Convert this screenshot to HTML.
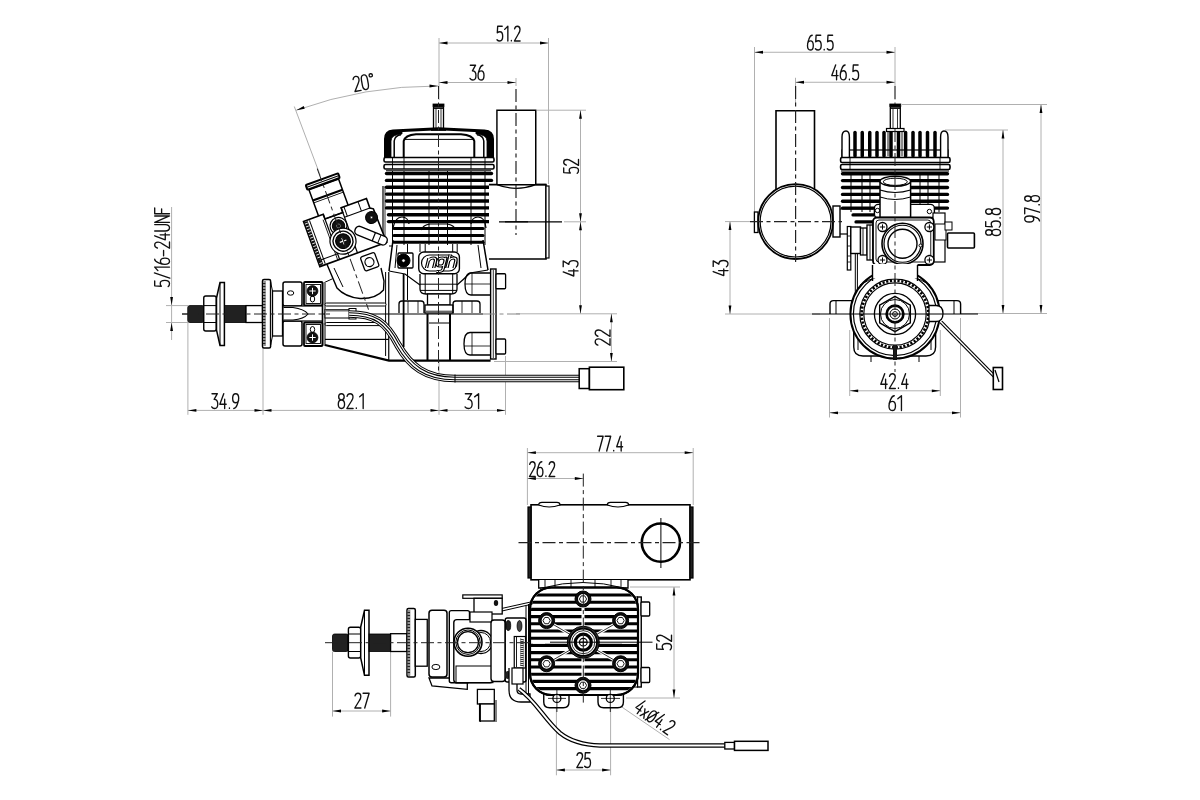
<!DOCTYPE html>
<html><head><meta charset="utf-8"><style>
html,body{margin:0;padding:0;background:#fff;width:1200px;height:800px;overflow:hidden}
svg{display:block}
text{font-family:"Liberation Sans",sans-serif;fill:#000;stroke:#fff;stroke-width:0.5px}
</style></head><body>
<svg width="1200" height="800" viewBox="0 0 1200 800" stroke-linecap="butt">
<rect width="1200" height="800" fill="#fff"/>
<line x1="439" y1="38" x2="439" y2="100" stroke="#b0b0b0" stroke-width="1.0" />
<line x1="548.5" y1="38" x2="548.5" y2="184" stroke="#b0b0b0" stroke-width="1.0" />
<line x1="439" y1="43" x2="548.5" y2="43" stroke="#b0b0b0" stroke-width="1.0" />
<polygon points="439,43 447.50,41.60 447.50,44.40" fill="#000"/>
<polygon points="548.5,43 540.00,44.40 540.00,41.60" fill="#000"/>
<path transform="translate(497,41)" d="M5.21,-14.80 L0.68,-14.80 L0.29,-8.19 Q1.45,-9.27 2.89,-9.27 Q5.69,-9.27 5.69,-4.64 Q5.69,0.00 2.80,0.00 Q0.96,0.00 0.00,-1.28 M7.67,-11.64 L10.85,-14.80 L10.85,0.00 M14.37,-0.69 L14.37,-0.10 M17.60,-12.14 Q18.27,-14.80 20.30,-14.80 Q23.00,-14.80 23.00,-11.45 Q23.00,-9.47 21.65,-7.50 L17.41,0.00 L23.10,0.00" fill="none" stroke="#111" stroke-width="1.35" stroke-linecap="round" stroke-linejoin="round"/>
<line x1="516" y1="78" x2="516" y2="86" stroke="#b0b0b0" stroke-width="1.0" />
<line x1="439" y1="82.5" x2="516" y2="82.5" stroke="#b0b0b0" stroke-width="1.0" />
<polygon points="439,82.5 447.50,81.10 447.50,83.90" fill="#000"/>
<polygon points="516,82.5 507.50,83.90 507.50,81.10" fill="#000"/>
<path transform="translate(470,80)" d="M0.30,-14.80 L5.56,-14.80 L2.43,-9.18 Q5.96,-9.18 5.96,-4.54 Q5.96,0.00 2.93,0.00 Q1.01,0.00 0.00,-1.58 M12.89,-14.80 Q10.87,-14.80 9.45,-10.85 Q8.04,-7.40 8.04,-4.54 Q8.04,0.00 11.02,0.00 Q14.00,0.00 14.00,-4.54 Q14.00,-9.08 11.02,-9.08 Q8.95,-9.08 8.14,-6.71" fill="none" stroke="#111" stroke-width="1.35" stroke-linecap="round" stroke-linejoin="round"/>
<path d="M296.25,110.25 A415,415 0 0 1 438,86" fill="none" stroke="#b0b0b0" stroke-width="1.0" />
<polygon points="296.25,110.25 303.76,106.04 304.72,108.67" fill="#000"/>
<polygon points="438,86 429.50,87.40 429.50,84.60" fill="#000"/>
<line x1="294.3" y1="106.5" x2="320.25" y2="175.5" stroke="#b0b0b0" stroke-width="1.0" />
<path transform="translate(355,91.5) rotate(-10)" d="M0.21,-12.14 Q0.94,-14.80 3.14,-14.80 Q6.07,-14.80 6.07,-11.45 Q6.07,-9.47 4.61,-7.50 L0.00,0.00 L6.18,0.00 M11.36,-14.80 Q8.32,-14.80 8.32,-9.87 L8.32,-4.93 Q8.32,0.00 11.36,0.00 Q14.40,0.00 14.40,-4.93 L14.40,-9.87 Q14.40,-14.80 11.36,-14.80 Z M18.32,-14.80 Q20.00,-14.80 20.00,-13.22 Q20.00,-11.64 18.32,-11.64 Q16.65,-11.64 16.65,-13.22 Q16.65,-14.80 18.32,-14.80 Z" fill="none" stroke="#111" stroke-width="1.35" stroke-linecap="round" stroke-linejoin="round"/>
<line x1="537" y1="110.2" x2="586" y2="110.2" stroke="#b0b0b0" stroke-width="1.0" />
<line x1="580.5" y1="110.2" x2="580.5" y2="221.8" stroke="#b0b0b0" stroke-width="1.0" />
<polygon points="580.5,110.2 581.90,118.70 579.10,118.70" fill="#000"/>
<polygon points="580.5,221.8 579.10,213.30 581.90,213.30" fill="#000"/>
<path transform="translate(578.5,173.3) rotate(-90)" d="M5.42,-14.80 L0.70,-14.80 L0.30,-8.19 Q1.51,-9.27 3.01,-9.27 Q5.92,-9.27 5.92,-4.64 Q5.92,0.00 2.91,0.00 Q1.00,0.00 0.00,-1.28 M8.18,-12.14 Q8.88,-14.80 10.99,-14.80 Q13.80,-14.80 13.80,-11.45 Q13.80,-9.47 12.39,-7.50 L7.98,0.00 L13.90,0.00" fill="none" stroke="#111" stroke-width="1.35" stroke-linecap="round" stroke-linejoin="round"/>
<line x1="564" y1="221.8" x2="586" y2="221.8" stroke="#b0b0b0" stroke-width="1.0" />
<line x1="580.5" y1="221.8" x2="580.5" y2="313.8" stroke="#b0b0b0" stroke-width="1.0" />
<polygon points="580.5,221.8 581.90,230.30 579.10,230.30" fill="#000"/>
<polygon points="580.5,313.8 579.10,305.30 581.90,305.30" fill="#000"/>
<path transform="translate(578,276) rotate(-90)" d="M4.11,-14.80 L0.00,-4.24 L6.70,-4.24 M5.08,-9.37 L5.08,0.00 M9.35,-14.80 L14.98,-14.80 L11.62,-9.18 Q15.41,-9.18 15.41,-4.54 Q15.41,0.00 12.16,0.00 Q10.11,0.00 9.03,-1.58" fill="none" stroke="#111" stroke-width="1.35" stroke-linecap="round" stroke-linejoin="round"/>
<line x1="516" y1="313.8" x2="617" y2="313.8" stroke="#b0b0b0" stroke-width="1.0" />
<line x1="611.4" y1="313.8" x2="611.4" y2="361.5" stroke="#b0b0b0" stroke-width="1.0" />
<polygon points="611.4,313.8 612.80,322.30 610.00,322.30" fill="#000"/>
<polygon points="611.4,361.5 610.00,353.00 612.80,353.00" fill="#000"/>
<path transform="translate(610,345.3) rotate(-90)" d="M0.22,-12.14 Q1.00,-14.80 3.34,-14.80 Q6.45,-14.80 6.45,-11.45 Q6.45,-9.47 4.90,-7.50 L0.00,0.00 L6.57,0.00 M9.07,-12.14 Q9.85,-14.80 12.18,-14.80 Q15.30,-14.80 15.30,-11.45 Q15.30,-9.47 13.74,-7.50 L8.85,0.00 L15.41,0.00" fill="none" stroke="#111" stroke-width="1.35" stroke-linecap="round" stroke-linejoin="round"/>
<line x1="494" y1="361.5" x2="617" y2="361.5" stroke="#b0b0b0" stroke-width="1.0" />
<line x1="171.6" y1="207" x2="171.6" y2="340" stroke="#b0b0b0" stroke-width="1.0" />
<polygon points="171.6,305.6 170.20,297.10 173.00,297.10" fill="#000"/>
<polygon points="171.6,322.5 173.00,331.00 170.20,331.00" fill="#000"/>
<line x1="166" y1="305.6" x2="188" y2="305.6" stroke="#b0b0b0" stroke-width="1.0" />
<line x1="166" y1="322.5" x2="188" y2="322.5" stroke="#b0b0b0" stroke-width="1.0" />
<path transform="translate(169.5,286.6) rotate(-90)" d="M5.72,-14.80 L0.74,-14.80 L0.32,-8.19 Q1.59,-9.27 3.18,-9.27 Q6.25,-9.27 6.25,-4.64 Q6.25,0.00 3.07,0.00 Q1.06,0.00 0.00,-1.28 M8.42,0.30 L13.71,-15.10 M15.98,-11.64 L19.48,-14.80 L19.48,0.00 M27.36,-14.80 Q25.25,-14.80 23.77,-10.85 Q22.28,-7.40 22.28,-4.54 Q22.28,0.00 25.41,0.00 Q28.53,0.00 28.53,-4.54 Q28.53,-9.08 25.41,-9.08 Q23.24,-9.08 22.39,-6.71 M30.80,-5.92 L36.10,-5.92 M38.59,-12.14 Q39.33,-14.80 41.55,-14.80 Q44.51,-14.80 44.51,-11.45 Q44.51,-9.47 43.03,-7.50 L38.37,0.00 L44.62,0.00 M50.81,-14.80 L46.79,-4.24 L53.35,-4.24 M51.76,-9.37 L51.76,0.00 M55.63,-14.80 L55.63,-4.24 Q55.63,0.00 58.80,0.00 Q61.98,0.00 61.98,-4.24 L61.98,-14.80 M64.26,0.00 L64.26,-14.80 L70.61,0.00 L70.61,-14.80 M78.60,-14.80 L72.88,-14.80 L72.88,0.00 M72.88,-7.89 L77.75,-7.89" fill="none" stroke="#111" stroke-width="1.35" stroke-linecap="round" stroke-linejoin="round"/>
<line x1="187.9" y1="322.5" x2="187.9" y2="414.8" stroke="#b0b0b0" stroke-width="1.0" />
<line x1="263" y1="348" x2="263" y2="414.8" stroke="#b0b0b0" stroke-width="1.0" />
<line x1="439" y1="361" x2="439" y2="414.8" stroke="#b0b0b0" stroke-width="1.0" />
<line x1="505.5" y1="356" x2="505.5" y2="414.8" stroke="#b0b0b0" stroke-width="1.0" />
<line x1="187.9" y1="410.4" x2="505.5" y2="410.4" stroke="#b0b0b0" stroke-width="1.0" />
<polygon points="187.9,410.4 196.40,409.00 196.40,411.80" fill="#000"/>
<polygon points="263,410.4 254.50,411.80 254.50,409.00" fill="#000"/>
<polygon points="263,410.4 271.50,409.00 271.50,411.80" fill="#000"/>
<polygon points="439,410.4 430.50,411.80 430.50,409.00" fill="#000"/>
<polygon points="439,410.4 447.50,409.00 447.50,411.80" fill="#000"/>
<polygon points="505.5,410.4 497.00,411.80 497.00,409.00" fill="#000"/>
<path transform="translate(211.7,408.5)" d="M0.31,-14.80 L5.64,-14.80 L2.46,-9.18 Q6.05,-9.18 6.05,-4.54 Q6.05,0.00 2.97,0.00 Q1.02,0.00 0.00,-1.58 M12.04,-14.80 L8.15,-4.24 L14.50,-4.24 M12.96,-9.37 L12.96,0.00 M17.73,-0.69 L17.73,-0.10 M22.08,0.00 Q24.13,0.00 25.57,-3.95 Q27.00,-7.40 27.00,-10.26 Q27.00,-14.80 23.98,-14.80 Q20.95,-14.80 20.95,-10.26 Q20.95,-5.72 23.98,-5.72 Q26.08,-5.72 26.90,-8.09" fill="none" stroke="#111" stroke-width="1.35" stroke-linecap="round" stroke-linejoin="round"/>
<path transform="translate(338.3,408.5)" d="M3.13,-8.49 Q0.37,-8.49 0.37,-11.64 Q0.37,-14.80 3.13,-14.80 Q5.89,-14.80 5.89,-11.64 Q5.89,-8.49 3.13,-8.49 Q0.00,-8.49 0.00,-4.24 Q0.00,0.00 3.13,0.00 Q6.26,0.00 6.26,-4.24 Q6.26,-8.49 3.13,-8.49 Z M8.75,-12.14 Q9.49,-14.80 11.72,-14.80 Q14.69,-14.80 14.69,-11.45 Q14.69,-9.47 13.20,-7.50 L8.54,0.00 L14.79,0.00 M18.03,-0.69 L18.03,-0.10 M21.37,-11.64 L24.87,-14.80 L24.87,0.00" fill="none" stroke="#111" stroke-width="1.35" stroke-linecap="round" stroke-linejoin="round"/>
<path transform="translate(465,408.5)" d="M0.36,-14.80 L6.65,-14.80 L2.90,-9.18 Q7.13,-9.18 7.13,-4.54 Q7.13,0.00 3.50,0.00 Q1.21,0.00 0.00,-1.58 M9.61,-11.64 L13.60,-14.80 L13.60,0.00" fill="none" stroke="#111" stroke-width="1.35" stroke-linecap="round" stroke-linejoin="round"/>
<line x1="754.5" y1="47" x2="754.5" y2="212" stroke="#b0b0b0" stroke-width="1.0" />
<line x1="895" y1="47" x2="895" y2="100" stroke="#b0b0b0" stroke-width="1.0" />
<line x1="754.5" y1="52.25" x2="895" y2="52.25" stroke="#b0b0b0" stroke-width="1.0" />
<polygon points="754.5,52.25 763.00,50.85 763.00,53.65" fill="#000"/>
<polygon points="895,52.25 886.50,53.65 886.50,50.85" fill="#000"/>
<path transform="translate(807.5,50)" d="M4.72,-14.80 Q2.75,-14.80 1.38,-10.85 Q0.00,-7.40 0.00,-4.54 Q0.00,0.00 2.90,0.00 Q5.80,0.00 5.80,-4.54 Q5.80,-9.08 2.90,-9.08 Q0.88,-9.08 0.10,-6.71 M13.22,-14.80 L8.60,-14.80 L8.21,-8.19 Q9.38,-9.27 10.86,-9.27 Q13.71,-9.27 13.71,-4.64 Q13.71,0.00 10.76,0.00 Q8.89,0.00 7.91,-1.28 M16.71,-0.69 L16.71,-0.10 M25.11,-14.80 L20.49,-14.80 L20.10,-8.19 Q21.27,-9.27 22.75,-9.27 Q25.60,-9.27 25.60,-4.64 Q25.60,0.00 22.65,0.00 Q20.78,0.00 19.80,-1.28" fill="none" stroke="#111" stroke-width="1.35" stroke-linecap="round" stroke-linejoin="round"/>
<line x1="795.5" y1="77.75" x2="795.5" y2="105" stroke="#b0b0b0" stroke-width="1.0" />
<line x1="795.5" y1="82.25" x2="895" y2="82.25" stroke="#b0b0b0" stroke-width="1.0" />
<polygon points="795.5,82.25 804.00,80.85 804.00,83.65" fill="#000"/>
<polygon points="895,82.25 886.50,83.65 886.50,80.85" fill="#000"/>
<path transform="translate(831.8,79.8)" d="M3.85,-14.80 L0.00,-4.24 L6.28,-4.24 M4.76,-9.37 L4.76,0.00 M13.32,-14.80 Q11.30,-14.80 9.88,-10.85 Q8.46,-7.40 8.46,-4.54 Q8.46,0.00 11.45,0.00 Q14.44,0.00 14.44,-4.54 Q14.44,-9.08 11.45,-9.08 Q9.37,-9.08 8.56,-6.71 M17.63,-0.69 L17.63,-0.10 M26.29,-14.80 L21.53,-14.80 L21.13,-8.19 Q22.34,-9.27 23.86,-9.27 Q26.80,-9.27 26.80,-4.64 Q26.80,0.00 23.76,0.00 Q21.84,0.00 20.82,-1.28" fill="none" stroke="#111" stroke-width="1.35" stroke-linecap="round" stroke-linejoin="round"/>
<line x1="902" y1="104.5" x2="1047" y2="104.5" stroke="#b0b0b0" stroke-width="1.0" />
<line x1="945" y1="130" x2="1008" y2="130" stroke="#b0b0b0" stroke-width="1.0" />
<line x1="955" y1="313.5" x2="1047" y2="313.5" stroke="#b0b0b0" stroke-width="1.0" />
<line x1="1041" y1="104.5" x2="1041" y2="313.5" stroke="#b0b0b0" stroke-width="1.0" />
<polygon points="1041,104.5 1042.40,113.00 1039.60,113.00" fill="#000"/>
<polygon points="1041,313.5 1039.60,305.00 1042.40,305.00" fill="#000"/>
<line x1="1003" y1="130" x2="1003" y2="313.5" stroke="#b0b0b0" stroke-width="1.0" />
<polygon points="1003,130 1004.40,138.50 1001.60,138.50" fill="#000"/>
<polygon points="1003,313.5 1001.60,305.00 1004.40,305.00" fill="#000"/>
<path transform="translate(1000.5,235.5) rotate(-90)" d="M3.06,-8.49 Q0.36,-8.49 0.36,-11.64 Q0.36,-14.80 3.06,-14.80 Q5.75,-14.80 5.75,-11.64 Q5.75,-8.49 3.06,-8.49 Q0.00,-8.49 0.00,-4.24 Q0.00,0.00 3.06,0.00 Q6.12,0.00 6.12,-4.24 Q6.12,-8.49 3.06,-8.49 Z M13.94,-14.80 L9.07,-14.80 L8.65,-8.19 Q9.90,-9.27 11.45,-9.27 Q14.46,-9.27 14.46,-4.64 Q14.46,0.00 11.35,0.00 Q9.38,0.00 8.34,-1.28 M17.62,-0.69 L17.62,-0.10 M23.94,-8.49 Q21.25,-8.49 21.25,-11.64 Q21.25,-14.80 23.94,-14.80 Q26.64,-14.80 26.64,-11.64 Q26.64,-8.49 23.94,-8.49 Q20.88,-8.49 20.88,-4.24 Q20.88,0.00 23.94,0.00 Q27.00,0.00 27.00,-4.24 Q27.00,-8.49 23.94,-8.49 Z" fill="none" stroke="#111" stroke-width="1.35" stroke-linecap="round" stroke-linejoin="round"/>
<path transform="translate(1039.5,222) rotate(-90)" d="M1.11,0.00 Q3.14,0.00 4.56,-3.95 Q5.98,-7.40 5.98,-10.26 Q5.98,-14.80 2.99,-14.80 Q0.00,-14.80 0.00,-10.26 Q0.00,-5.72 2.99,-5.72 Q5.07,-5.72 5.88,-8.09 M8.16,-14.80 L14.04,-14.80 L9.78,0.00 M17.23,-0.69 L17.23,-0.10 M23.41,-8.49 Q20.78,-8.49 20.78,-11.64 Q20.78,-14.80 23.41,-14.80 Q26.05,-14.80 26.05,-11.64 Q26.05,-8.49 23.41,-8.49 Q20.42,-8.49 20.42,-4.24 Q20.42,0.00 23.41,0.00 Q26.40,0.00 26.40,-4.24 Q26.40,-8.49 23.41,-8.49 Z" fill="none" stroke="#111" stroke-width="1.35" stroke-linecap="round" stroke-linejoin="round"/>
<line x1="725" y1="221.6" x2="755" y2="221.6" stroke="#b0b0b0" stroke-width="1.0" />
<line x1="725" y1="314" x2="820" y2="314" stroke="#b0b0b0" stroke-width="1.0" />
<line x1="730" y1="221.6" x2="730" y2="314" stroke="#b0b0b0" stroke-width="1.0" />
<polygon points="730,221.6 731.40,230.10 728.60,230.10" fill="#000"/>
<polygon points="730,314 728.60,305.50 731.40,305.50" fill="#000"/>
<path transform="translate(728,275.6) rotate(-90)" d="M4.03,-14.80 L0.00,-4.24 L6.57,-4.24 M4.98,-9.37 L4.98,0.00 M9.17,-14.80 L14.68,-14.80 L11.40,-9.18 Q15.11,-9.18 15.11,-4.54 Q15.11,0.00 11.93,0.00 Q9.91,0.00 8.85,-1.58" fill="none" stroke="#111" stroke-width="1.35" stroke-linecap="round" stroke-linejoin="round"/>
<line x1="849.7" y1="330" x2="849.7" y2="396" stroke="#b0b0b0" stroke-width="1.0" />
<line x1="940.3" y1="330" x2="940.3" y2="396" stroke="#b0b0b0" stroke-width="1.0" />
<line x1="849.7" y1="390.8" x2="940.3" y2="390.8" stroke="#b0b0b0" stroke-width="1.0" />
<polygon points="849.7,390.8 858.20,389.40 858.20,392.20" fill="#000"/>
<polygon points="940.3,390.8 931.80,392.20 931.80,389.40" fill="#000"/>
<path transform="translate(880.8,388.5)" d="M3.88,-14.80 L0.00,-4.24 L6.33,-4.24 M4.80,-9.37 L4.80,0.00 M8.73,-12.14 Q9.44,-14.80 11.58,-14.80 Q14.44,-14.80 14.44,-11.45 Q14.44,-9.47 13.01,-7.50 L8.52,0.00 L14.54,0.00 M17.66,-0.69 L17.66,-0.10 M24.75,-14.80 L20.87,-4.24 L27.20,-4.24 M25.67,-9.37 L25.67,0.00" fill="none" stroke="#111" stroke-width="1.35" stroke-linecap="round" stroke-linejoin="round"/>
<line x1="829.5" y1="318" x2="829.5" y2="417.5" stroke="#b0b0b0" stroke-width="1.0" />
<line x1="960.5" y1="318" x2="960.5" y2="417.5" stroke="#b0b0b0" stroke-width="1.0" />
<line x1="829.5" y1="412.8" x2="960.5" y2="412.8" stroke="#b0b0b0" stroke-width="1.0" />
<polygon points="829.5,412.8 838.00,411.40 838.00,414.20" fill="#000"/>
<polygon points="960.5,412.8 952.00,414.20 952.00,411.40" fill="#000"/>
<path transform="translate(889,410.5)" d="M5.27,-14.80 Q3.07,-14.80 1.54,-10.85 Q0.00,-7.40 0.00,-4.54 Q0.00,0.00 3.24,0.00 Q6.47,0.00 6.47,-4.54 Q6.47,-9.08 3.24,-9.08 Q0.99,-9.08 0.11,-6.71 M8.83,-11.64 L12.45,-14.80 L12.45,0.00" fill="none" stroke="#111" stroke-width="1.35" stroke-linecap="round" stroke-linejoin="round"/>
<line x1="527.4" y1="448" x2="527.4" y2="505" stroke="#b0b0b0" stroke-width="1.0" />
<line x1="693.2" y1="448" x2="693.2" y2="505" stroke="#b0b0b0" stroke-width="1.0" />
<line x1="527.4" y1="452.7" x2="693.2" y2="452.7" stroke="#b0b0b0" stroke-width="1.0" />
<polygon points="527.4,452.7 535.90,451.30 535.90,454.10" fill="#000"/>
<polygon points="693.2,452.7 684.70,454.10 684.70,451.30" fill="#000"/>
<path transform="translate(597.6,451)" d="M0.00,-14.80 L5.52,-14.80 L1.52,0.00 M7.57,-14.80 L13.10,-14.80 L9.10,0.00 M16.10,-0.69 L16.10,-0.10 M22.71,-14.80 L19.10,-4.24 L25.00,-4.24 M23.57,-9.37 L23.57,0.00" fill="none" stroke="#111" stroke-width="1.35" stroke-linecap="round" stroke-linejoin="round"/>
<line x1="527.4" y1="478.5" x2="583.3" y2="478.5" stroke="#b0b0b0" stroke-width="1.0" />
<polygon points="527.4,478.5 535.90,477.10 535.90,479.90" fill="#000"/>
<polygon points="583.3,478.5 574.80,479.90 574.80,477.10" fill="#000"/>
<path transform="translate(529.5,476.5)" d="M0.19,-12.14 Q0.87,-14.80 2.90,-14.80 Q5.61,-14.80 5.61,-11.45 Q5.61,-9.47 4.26,-7.50 L0.00,0.00 L5.71,0.00 M12.33,-14.80 Q10.40,-14.80 9.04,-10.85 Q7.69,-7.40 7.69,-4.54 Q7.69,0.00 10.54,0.00 Q13.40,0.00 13.40,-4.54 Q13.40,-9.08 10.54,-9.08 Q8.56,-9.08 7.79,-6.71 M16.44,-0.69 L16.44,-0.10 M19.68,-12.14 Q20.36,-14.80 22.39,-14.80 Q25.10,-14.80 25.10,-11.45 Q25.10,-9.47 23.75,-7.50 L19.49,0.00 L25.20,0.00" fill="none" stroke="#111" stroke-width="1.35" stroke-linecap="round" stroke-linejoin="round"/>
<line x1="630" y1="587" x2="680" y2="587" stroke="#b0b0b0" stroke-width="1.0" />
<line x1="626" y1="698" x2="680" y2="698" stroke="#b0b0b0" stroke-width="1.0" />
<line x1="674" y1="587" x2="674" y2="698" stroke="#b0b0b0" stroke-width="1.0" />
<polygon points="674,587 675.40,595.50 672.60,595.50" fill="#000"/>
<polygon points="674,698 672.60,689.50 675.40,689.50" fill="#000"/>
<path transform="translate(671.5,649.7) rotate(-90)" d="M5.69,-14.80 L0.74,-14.80 L0.32,-8.19 Q1.58,-9.27 3.16,-9.27 Q6.22,-9.27 6.22,-4.64 Q6.22,0.00 3.06,0.00 Q1.05,0.00 0.00,-1.28 M8.59,-12.14 Q9.33,-14.80 11.55,-14.80 Q14.50,-14.80 14.50,-11.45 Q14.50,-9.47 13.02,-7.50 L8.38,0.00 L14.61,0.00" fill="none" stroke="#111" stroke-width="1.35" stroke-linecap="round" stroke-linejoin="round"/>
<line x1="332.5" y1="651.5" x2="332.5" y2="716.6" stroke="#b0b0b0" stroke-width="1.0" />
<line x1="390.6" y1="651.5" x2="390.6" y2="716.6" stroke="#b0b0b0" stroke-width="1.0" />
<line x1="332.5" y1="711" x2="390.6" y2="711" stroke="#b0b0b0" stroke-width="1.0" />
<polygon points="332.5,711 341.00,709.60 341.00,712.40" fill="#000"/>
<polygon points="390.6,711 382.10,712.40 382.10,709.60" fill="#000"/>
<path transform="translate(354.8,708)" d="M0.21,-12.14 Q0.94,-14.80 3.12,-14.80 Q6.03,-14.80 6.03,-11.45 Q6.03,-9.47 4.58,-7.50 L0.00,0.00 L6.14,0.00 M8.27,-14.80 L14.30,-14.80 L9.93,0.00" fill="none" stroke="#111" stroke-width="1.35" stroke-linecap="round" stroke-linejoin="round"/>
<line x1="556.4" y1="705" x2="556.4" y2="775.3" stroke="#b0b0b0" stroke-width="1.0" />
<line x1="610.6" y1="705" x2="610.6" y2="775.3" stroke="#b0b0b0" stroke-width="1.0" />
<line x1="556.4" y1="770" x2="610.6" y2="770" stroke="#b0b0b0" stroke-width="1.0" />
<polygon points="556.4,770 564.90,768.60 564.90,771.40" fill="#000"/>
<polygon points="610.6,770 602.10,771.40 602.10,768.60" fill="#000"/>
<path transform="translate(576.8,767.5)" d="M0.20,-12.14 Q0.89,-14.80 2.97,-14.80 Q5.74,-14.80 5.74,-11.45 Q5.74,-9.47 4.35,-7.50 L0.00,0.00 L5.84,0.00 M13.20,-14.80 L8.56,-14.80 L8.16,-8.19 Q9.35,-9.27 10.83,-9.27 Q13.70,-9.27 13.70,-4.64 Q13.70,0.00 10.73,0.00 Q8.85,0.00 7.86,-1.28" fill="none" stroke="#111" stroke-width="1.35" stroke-linecap="round" stroke-linejoin="round"/>
<line x1="621.8" y1="707" x2="669.5" y2="739.6" stroke="#b0b0b0" stroke-width="1.0" />
<path transform="translate(633.5,711) rotate(35)" d="M3.71,-14.80 L0.00,-4.24 L6.05,-4.24 M4.58,-9.37 L4.58,0.00 M8.14,-8.39 L12.63,0.00 M12.63,-8.39 L8.14,0.00 M18.14,-12.33 Q15.02,-12.33 15.02,-6.17 Q15.02,0.00 18.14,0.00 Q21.26,0.00 21.26,-6.17 Q21.26,-12.33 18.14,-12.33 Z M14.73,0.49 L21.55,-13.32 M27.36,-14.80 L23.65,-4.24 L29.70,-4.24 M28.24,-9.37 L28.24,0.00 M32.77,-0.69 L32.77,-0.10 M36.04,-12.14 Q36.72,-14.80 38.77,-14.80 Q41.50,-14.80 41.50,-11.45 Q41.50,-9.47 40.13,-7.50 L35.84,0.00 L41.60,0.00" fill="none" stroke="#111" stroke-width="1.35" stroke-linecap="round" stroke-linejoin="round"/>
<rect x="433.5" y="107" width="10.0" height="22" rx="0" fill="#fff" stroke="#000" stroke-width="1.3"/>
<rect x="433" y="104" width="11" height="2.5" rx="0" fill="#000" stroke="#000" stroke-width="0.8"/>
<line x1="433.5" y1="108.3" x2="443.5" y2="108.3" stroke="#000" stroke-width="1.2" />
<line x1="436" y1="108" x2="436" y2="128" stroke="#000" stroke-width="0.8" />
<line x1="441" y1="108" x2="441" y2="128" stroke="#000" stroke-width="0.8" />
<path d="M385.5,158 L385.5,139 Q385.5,131.5 393,131 L438.5,128.8 L484.5,131 Q492.5,131.5 492.5,139 L492.5,158" fill="#fff" stroke="#000" stroke-width="3.0" />
<path d="M385.5,157.5 L385.5,139 Q385.5,131.5 393,131 L402,130.6 L402,134 Q391,134.5 391,141 L391,157.5 Z" fill="#000" stroke="#000" stroke-width="0.8" />
<path d="M492.5,157.5 L492.5,139 Q492.5,131.5 485,131 L476,130.6 L476,134 Q487,134.5 487,141 L487,157.5 Z" fill="#000" stroke="#000" stroke-width="0.8" />
<path d="M394.2,157 L394.2,141 Q395,135.5 401,134.8 M483.8,157 L483.8,141 Q483,135.5 477,134.8" fill="none" stroke="#000" stroke-width="1.5" />
<path d="M403.7,157 L403.7,141 Q405,135 416,134.2 L461,134.2 Q473,135 474.3,141 L474.3,157" fill="none" stroke="#000" stroke-width="2.0" />
<line x1="404" y1="139.4" x2="474" y2="139.4" stroke="#000" stroke-width="1.0" />
<line x1="431" y1="129.6" x2="446" y2="129.6" stroke="#000" stroke-width="2.5" />
<rect x="384" y="157.5" width="110" height="4.5" rx="1.5" fill="#fff" stroke="#000" stroke-width="1.6"/>
<rect x="384" y="164.5" width="110" height="4.5" rx="1.5" fill="#fff" stroke="#000" stroke-width="1.6"/>
<line x1="392.5" y1="157.5" x2="392.5" y2="169" stroke="#000" stroke-width="0.9" />
<line x1="404" y1="157.5" x2="404" y2="169" stroke="#000" stroke-width="0.9" />
<line x1="438.5" y1="157.5" x2="438.5" y2="169" stroke="#000" stroke-width="0.9" />
<line x1="471" y1="157.5" x2="471" y2="169" stroke="#000" stroke-width="0.9" />
<line x1="485" y1="157.5" x2="485" y2="169" stroke="#000" stroke-width="0.9" />
<line x1="386" y1="170.5" x2="491" y2="170.5" stroke="#444" stroke-width="1.5" />
<line x1="386.5" y1="173.5" x2="491.5" y2="173.5" stroke="#000" stroke-width="3.4" stroke-linecap="round"/>
<line x1="386.5" y1="180.4" x2="491.5" y2="180.4" stroke="#000" stroke-width="3.4" stroke-linecap="round"/>
<line x1="386.5" y1="187.25" x2="491.5" y2="187.25" stroke="#000" stroke-width="3.4" stroke-linecap="round"/>
<line x1="386.5" y1="194.1" x2="491.5" y2="194.1" stroke="#000" stroke-width="3.4" stroke-linecap="round"/>
<line x1="386.5" y1="201" x2="491.5" y2="201" stroke="#000" stroke-width="3.4" stroke-linecap="round"/>
<line x1="386.5" y1="207.9" x2="491.5" y2="207.9" stroke="#000" stroke-width="3.4" stroke-linecap="round"/>
<line x1="388.5" y1="214.75" x2="489.5" y2="214.75" stroke="#000" stroke-width="3.4" stroke-linecap="round"/>
<line x1="388.5" y1="221.6" x2="489.5" y2="221.6" stroke="#000" stroke-width="3.4" stroke-linecap="round"/>
<line x1="394" y1="228.5" x2="483" y2="228.5" stroke="#000" stroke-width="3.0" stroke-linecap="round"/>
<line x1="394" y1="235.4" x2="483" y2="235.4" stroke="#000" stroke-width="3.0" stroke-linecap="round"/>
<line x1="394" y1="242.25" x2="483" y2="242.25" stroke="#000" stroke-width="3.0" stroke-linecap="round"/>
<line x1="392.5" y1="171" x2="392.5" y2="245" stroke="#000" stroke-width="1.0" />
<line x1="404" y1="171" x2="404" y2="245" stroke="#000" stroke-width="1.0" />
<line x1="429" y1="171" x2="429" y2="245" stroke="#000" stroke-width="1.0" />
<line x1="447.5" y1="171" x2="447.5" y2="245" stroke="#000" stroke-width="1.0" />
<line x1="471" y1="171" x2="471" y2="245" stroke="#000" stroke-width="1.0" />
<line x1="485" y1="171" x2="485" y2="245" stroke="#000" stroke-width="1.0" />
<line x1="383" y1="186" x2="383" y2="238" stroke="#000" stroke-width="1.2" />
<line x1="385" y1="186" x2="385" y2="238" stroke="#000" stroke-width="0.8" />
<path d="M393,228 Q395,217 402,217 Q408,217 409,224" fill="none" stroke="#000" stroke-width="1.2" />
<path d="M471,224 Q472,217 478,217 Q485,217 486,228" fill="none" stroke="#000" stroke-width="1.2" />
<path d="M421,230 Q423,225 430,224 L447,224 Q454,225 456,230" fill="none" stroke="#000" stroke-width="1.2" />
<path d="M393,240 L389,271" fill="none" stroke="#000" stroke-width="1.5" />
<path d="M483,240 L488,270" fill="none" stroke="#000" stroke-width="1.5" />
<path d="M397,245 L395,268 M478,245 L481,268" fill="none" stroke="#000" stroke-width="1.0" />
<line x1="389" y1="246" x2="393" y2="246" stroke="#000" stroke-width="1.0" />
<rect x="398" y="253" width="15" height="15" rx="1" fill="#fff" stroke="#000" stroke-width="1.3"/>
<circle cx="403.5" cy="260.6" r="6.5" fill="#000" stroke="#000" stroke-width="1"/>
<circle cx="403.5" cy="260.6" r="1.6" fill="#fff" stroke="#000" stroke-width="0.5"/>
<rect x="418.75" y="252" width="40.64999999999998" height="21.75" rx="5" fill="#fff" stroke="#000" stroke-width="1.4"/>
<rect x="421.5" y="255" width="35.5" height="16" rx="8" fill="none" stroke="#000" stroke-width="1.2"/>
<g transform="translate(429,258) skewX(-14) scale(1.2,1)"><path d="M0,10 L0,0 M0,3 Q1,0 3.5,0 Q6,0 6,3 L6,10 M14,3 Q14,0 11,0 Q8,0 8,3 L8,5 Q8,8 11,8 Q14,8 14,5 L14,0 L14,11 Q14,13.5 11,13.5 L9,13.5 M17,10 L17,-3.5 M17,3 Q18,0 20.5,0 Q23,0 23,3 L23,10" fill="none" stroke="#000" stroke-width="2.9" stroke-linejoin="round"/><path d="M0,10 L0,0 M0,3 Q1,0 3.5,0 Q6,0 6,3 L6,10 M14,3 Q14,0 11,0 Q8,0 8,3 L8,5 Q8,8 11,8 Q14,8 14,5 L14,0 L14,11 Q14,13.5 11,13.5 L9,13.5 M17,10 L17,-3.5 M17,3 Q18,0 20.5,0 Q23,0 23,3 L23,10" fill="none" stroke="#fff" stroke-width="0.9" stroke-linejoin="round"/></g>
<path d="M420,274 L420,289 Q420,294 426,294 L451,294 Q457,294 457,289 L457,274" fill="none" stroke="#000" stroke-width="1.3" />
<line x1="420" y1="284.2" x2="457" y2="284.2" stroke="#000" stroke-width="1.0" />
<line x1="420" y1="290.4" x2="457" y2="290.4" stroke="#000" stroke-width="1.0" />
<line x1="420" y1="244" x2="420" y2="252" stroke="#000" stroke-width="1.0" />
<line x1="425.2" y1="244" x2="425.2" y2="252" stroke="#000" stroke-width="1.0" />
<line x1="452.7" y1="244" x2="452.7" y2="252" stroke="#000" stroke-width="1.0" />
<line x1="457.2" y1="244" x2="457.2" y2="252" stroke="#000" stroke-width="1.0" />
<line x1="425.2" y1="273.75" x2="425.2" y2="294" stroke="#000" stroke-width="1.0" />
<line x1="452.7" y1="273.75" x2="452.7" y2="294" stroke="#000" stroke-width="1.0" />
<line x1="407.5" y1="244" x2="407.5" y2="253" stroke="#000" stroke-width="1.0" />
<line x1="407.5" y1="268" x2="407.5" y2="300" stroke="#000" stroke-width="1.0" />
<path d="M389,271 L405,274 L420,285 M488,270 L470,273 Q463,280 457,285" fill="none" stroke="#000" stroke-width="1.2" />
<rect x="427.5" y="294" width="22.5" height="11" rx="0" fill="#fff" stroke="#000" stroke-width="1.3"/>
<rect x="425" y="305" width="28" height="8" rx="0" fill="#fff" stroke="#000" stroke-width="1.3"/>
<rect x="425.6" y="310.6" width="26.8" height="2" fill="#666"/>
<path d="M399,313 L399,304 Q399,301 402,301 L421,301 Q424,301 424,304 L424,313" fill="none" stroke="#000" stroke-width="1.3" />
<path d="M453,313 L453,304 Q453,301 456,301 L477,301 Q480,301 480,304 L480,313" fill="none" stroke="#000" stroke-width="1.3" />
<line x1="408" y1="301" x2="408" y2="313" stroke="#000" stroke-width="0.8" />
<line x1="418" y1="301" x2="418" y2="313" stroke="#000" stroke-width="0.8" />
<line x1="462" y1="301" x2="462" y2="313" stroke="#000" stroke-width="0.8" />
<line x1="472" y1="301" x2="472" y2="313" stroke="#000" stroke-width="0.8" />
<path d="M490,273 L471,273 Q465,273 465,284 Q465,295 471,295 L490,295" fill="none" stroke="#000" stroke-width="1.3" />
<line x1="472" y1="273" x2="472" y2="295" stroke="#000" stroke-width="0.8" />
<line x1="465" y1="284" x2="490" y2="284" stroke="#000" stroke-width="0.8" />
<rect x="490.6" y="269" width="5.399999999999977" height="90" rx="0" fill="#fff" stroke="#000" stroke-width="1.4"/>
<line x1="493.3" y1="270" x2="493.3" y2="358" stroke="#000" stroke-width="0.8" />
<rect x="496" y="273.75" width="9.600000000000023" height="15.0" rx="1" fill="#fff" stroke="#000" stroke-width="1.3"/>
<rect x="496" y="339" width="9.600000000000023" height="15" rx="1" fill="#fff" stroke="#000" stroke-width="1.3"/>
<path d="M490,332.5 L470,332.5 Q464,332.5 464,344 Q464,355 470,355 L490,355" fill="none" stroke="#000" stroke-width="1.3" />
<line x1="472" y1="332.5" x2="472" y2="355" stroke="#000" stroke-width="0.8" />
<line x1="464" y1="346" x2="490" y2="346" stroke="#000" stroke-width="0.8" />
<line x1="300" y1="314" x2="483" y2="314" stroke="#000" stroke-width="1.0" />
<line x1="483" y1="314" x2="520" y2="314" stroke="#888" stroke-width="1.0" stroke-dasharray="13,3.5,4,3.5"/>
<line x1="182" y1="314" x2="300" y2="314" stroke="#222" stroke-width="1.0" stroke-dasharray="13,3.5,4,3.5"/>
<line x1="427.5" y1="314" x2="427.5" y2="360" stroke="#000" stroke-width="2.0" />
<line x1="450" y1="314" x2="450" y2="360" stroke="#000" stroke-width="2.0" />
<line x1="429" y1="323" x2="449" y2="323" stroke="#000" stroke-width="1.0" />
<line x1="403.6" y1="274" x2="403.6" y2="347" stroke="#000" stroke-width="1.8" />
<line x1="388.75" y1="272" x2="388.75" y2="360" stroke="#000" stroke-width="1.2" />
<line x1="385.6" y1="272" x2="385.6" y2="356" stroke="#000" stroke-width="1.0" />
<path d="M325,345 L389,360.6 L490.6,360.6" fill="none" stroke="#000" stroke-width="2.2" />
<line x1="325" y1="339.4" x2="388.75" y2="339.4" stroke="#000" stroke-width="1.0" />
<line x1="438.5" y1="86" x2="438.5" y2="375" stroke="#222" stroke-width="1.0" stroke-dasharray="13,3.5,4,3.5"/>
<path d="M497,187 L497,110.2 L535.7,110.2 L535.7,184.6" fill="#fff" stroke="#000" stroke-width="1.6" />
<path d="M497,184.6 Q516,193 535.7,184.6" fill="none" stroke="#000" stroke-width="1.3" />
<path d="M489,184.6 L546,184.6 L546,259 L489,259" fill="#fff" stroke="#000" stroke-width="1.6" />
<rect x="546" y="186" width="3" height="72" rx="0" fill="#fff" stroke="#000" stroke-width="1.2"/>
<rect x="497.8" y="111" width="37.2" height="73" fill="#fff"/>
<path d="M497,184.6 Q516,192 535.7,184.6" fill="none" stroke="#000" stroke-width="1.3" />
<line x1="535.7" y1="184.6" x2="546" y2="184.6" stroke="#000" stroke-width="1.6" />
<line x1="516" y1="89" x2="516" y2="235" stroke="#222" stroke-width="1.2" stroke-dasharray="13,3.5,4,3.5"/>
<line x1="499" y1="221.8" x2="562" y2="221.8" stroke="#000" stroke-width="1.2" />
<line x1="505" y1="221.8" x2="528" y2="221.8" stroke="#000" stroke-width="1.2" />
<rect x="187.75" y="305.6" width="16.650000000000006" height="16.899999999999977" rx="2" fill="#111" stroke="#000" stroke-width="0.8"/>
<line x1="189" y1="306" x2="189" y2="322" stroke="#555" stroke-width="0.5" />
<line x1="191" y1="306" x2="191" y2="322" stroke="#555" stroke-width="0.5" />
<line x1="193" y1="306" x2="193" y2="322" stroke="#555" stroke-width="0.5" />
<line x1="195" y1="306" x2="195" y2="322" stroke="#555" stroke-width="0.5" />
<line x1="197" y1="306" x2="197" y2="322" stroke="#555" stroke-width="0.5" />
<line x1="199" y1="306" x2="199" y2="322" stroke="#555" stroke-width="0.5" />
<line x1="201" y1="306" x2="201" y2="322" stroke="#555" stroke-width="0.5" />
<line x1="203" y1="306" x2="203" y2="322" stroke="#555" stroke-width="0.5" />
<rect x="203.75" y="296" width="12.5" height="35" rx="2" fill="#fff" stroke="#000" stroke-width="1.4"/>
<line x1="204" y1="305.6" x2="216" y2="305.6" stroke="#000" stroke-width="1.0" />
<line x1="204" y1="322.5" x2="216" y2="322.5" stroke="#000" stroke-width="1.0" />
<polygon points="216.5,298 220,282.5 224.4,282.5 224.4,345.5 220,345.5 216.5,330" fill="#fff" stroke="#000" stroke-width="1.5"/>
<line x1="220" y1="283" x2="220" y2="345" stroke="#000" stroke-width="1.0" />
<rect x="224.4" y="305.6" width="21.599999999999994" height="16.899999999999977" rx="0" fill="#111" stroke="#000" stroke-width="0.8"/>
<line x1="226" y1="306" x2="226" y2="322" stroke="#555" stroke-width="0.5" />
<line x1="228" y1="306" x2="228" y2="322" stroke="#555" stroke-width="0.5" />
<line x1="230" y1="306" x2="230" y2="322" stroke="#555" stroke-width="0.5" />
<line x1="232" y1="306" x2="232" y2="322" stroke="#555" stroke-width="0.5" />
<line x1="234" y1="306" x2="234" y2="322" stroke="#555" stroke-width="0.5" />
<line x1="236" y1="306" x2="236" y2="322" stroke="#555" stroke-width="0.5" />
<line x1="238" y1="306" x2="238" y2="322" stroke="#555" stroke-width="0.5" />
<line x1="240" y1="306" x2="240" y2="322" stroke="#555" stroke-width="0.5" />
<line x1="242" y1="306" x2="242" y2="322" stroke="#555" stroke-width="0.5" />
<line x1="244" y1="306" x2="244" y2="322" stroke="#555" stroke-width="0.5" />
<rect x="246" y="305.6" width="16.5" height="16.899999999999977" rx="0" fill="#fff" stroke="#000" stroke-width="1.3"/>
<rect x="262.5" y="279.4" width="8.100000000000023" height="68.60000000000002" rx="1.5" fill="#fff" stroke="#000" stroke-width="1.5"/>
<rect x="263" y="281" width="2.6" height="65" fill="#222"/>
<line x1="263" y1="282" x2="265.6" y2="282" stroke="#fff" stroke-width="1.0" />
<line x1="263" y1="285" x2="265.6" y2="285" stroke="#fff" stroke-width="1.0" />
<line x1="263" y1="288" x2="265.6" y2="288" stroke="#fff" stroke-width="1.0" />
<line x1="263" y1="291" x2="265.6" y2="291" stroke="#fff" stroke-width="1.0" />
<line x1="263" y1="294" x2="265.6" y2="294" stroke="#fff" stroke-width="1.0" />
<line x1="263" y1="297" x2="265.6" y2="297" stroke="#fff" stroke-width="1.0" />
<line x1="263" y1="300" x2="265.6" y2="300" stroke="#fff" stroke-width="1.0" />
<line x1="263" y1="303" x2="265.6" y2="303" stroke="#fff" stroke-width="1.0" />
<line x1="263" y1="306" x2="265.6" y2="306" stroke="#fff" stroke-width="1.0" />
<line x1="263" y1="309" x2="265.6" y2="309" stroke="#fff" stroke-width="1.0" />
<line x1="263" y1="312" x2="265.6" y2="312" stroke="#fff" stroke-width="1.0" />
<line x1="263" y1="315" x2="265.6" y2="315" stroke="#fff" stroke-width="1.0" />
<line x1="263" y1="318" x2="265.6" y2="318" stroke="#fff" stroke-width="1.0" />
<line x1="263" y1="321" x2="265.6" y2="321" stroke="#fff" stroke-width="1.0" />
<line x1="263" y1="324" x2="265.6" y2="324" stroke="#fff" stroke-width="1.0" />
<line x1="263" y1="327" x2="265.6" y2="327" stroke="#fff" stroke-width="1.0" />
<line x1="263" y1="330" x2="265.6" y2="330" stroke="#fff" stroke-width="1.0" />
<line x1="263" y1="333" x2="265.6" y2="333" stroke="#fff" stroke-width="1.0" />
<line x1="263" y1="336" x2="265.6" y2="336" stroke="#fff" stroke-width="1.0" />
<line x1="263" y1="339" x2="265.6" y2="339" stroke="#fff" stroke-width="1.0" />
<line x1="263" y1="342" x2="265.6" y2="342" stroke="#fff" stroke-width="1.0" />
<line x1="263" y1="345" x2="265.6" y2="345" stroke="#fff" stroke-width="1.0" />
<polygon points="270.6,282 272.5,291 272.5,336 270.6,345" fill="#fff" stroke="#000" stroke-width="1.0"/>
<rect x="272.5" y="291" width="10.0" height="45" rx="0" fill="#fff" stroke="#000" stroke-width="1.3"/>
<rect x="283" y="282" width="19" height="24" rx="2" fill="#fff" stroke="#000" stroke-width="1.5"/>
<rect x="283" y="321" width="19" height="25" rx="2" fill="#fff" stroke="#000" stroke-width="1.5"/>
<ellipse cx="290.6" cy="293" rx="3.2" ry="2.2" fill="none" stroke="#000" stroke-width="1"/>
<rect x="304" y="282" width="18.5" height="23.5" rx="1" fill="#fff" stroke="#000" stroke-width="1.8"/>
<rect x="304" y="322.5" width="18.5" height="23.5" rx="1" fill="#fff" stroke="#000" stroke-width="1.8"/>
<rect x="306" y="284.5" width="14.5" height="19.0" rx="0" fill="none" stroke="#000" stroke-width="0.9"/>
<rect x="306" y="324.5" width="14.5" height="19.0" rx="0" fill="none" stroke="#000" stroke-width="0.9"/>
<circle cx="312.5" cy="291" r="5.4" fill="#111" stroke="#000" stroke-width="0.8"/>
<line x1="309.3" y1="291" x2="315.7" y2="291" stroke="#fff" stroke-width="1.0" />
<line x1="312.5" y1="287.8" x2="312.5" y2="294.2" stroke="#fff" stroke-width="1.0" />
<circle cx="312.5" cy="337.5" r="5.4" fill="#111" stroke="#000" stroke-width="0.8"/>
<line x1="309.3" y1="337.5" x2="315.7" y2="337.5" stroke="#fff" stroke-width="1.0" />
<line x1="312.5" y1="334.3" x2="312.5" y2="340.7" stroke="#fff" stroke-width="1.0" />
<ellipse cx="312.5" cy="299" rx="2.2" ry="3" fill="none" stroke="#000" stroke-width="1"/>
<ellipse cx="312.5" cy="329.5" rx="2.2" ry="3" fill="none" stroke="#000" stroke-width="1"/>
<rect x="283" y="306" width="39.5" height="15" rx="0" fill="#fff" stroke="#000" stroke-width="1.2"/>
<path d="M283.5,307.5 L293,307.5 Q304,309 308,314 Q304,319 293,320 L283.5,320" fill="none" stroke="#000" stroke-width="1.2" />
<line x1="322.5" y1="282" x2="322.5" y2="346" stroke="#000" stroke-width="1.5" />
<line x1="325" y1="283" x2="325" y2="346" stroke="#000" stroke-width="1.0" />
<rect x="325" y="303" width="61" height="3" rx="1.5" fill="#fff" stroke="#000" stroke-width="1.0"/>
<rect x="325" y="322.5" width="61" height="3.1000000000000227" rx="1.5" fill="#fff" stroke="#000" stroke-width="1.0"/>
<line x1="325" y1="339.4" x2="388.75" y2="339.4" stroke="#000" stroke-width="1.0" />
<line x1="324.4" y1="282.5" x2="332.5" y2="278.75" stroke="#000" stroke-width="1.0" />
<rect x="325" y="309.5" width="25" height="8.5" rx="0" fill="#fff" stroke="#000" stroke-width="1.0"/>
<rect x="325" y="309.5" width="25" height="2" fill="#777"/>
<rect x="349" y="308.5" width="7" height="10.5" rx="0" fill="#fff" stroke="#000" stroke-width="1.0"/>
<path d="M326,262 L337,288 Q345,297 360,298.5 Q376,299 383.5,290 L384,281 L381,268" fill="#fff" stroke="#000" stroke-width="1.4" />
<line x1="334" y1="268" x2="343" y2="287" stroke="#000" stroke-width="1.0" />
<g transform="translate(303.5,221.5) rotate(-20)">
<path d="M16,0 L16,-28 L47.5,-28 L47.5,0" fill="#fff" stroke="#000" stroke-width="1.5" />
<rect x="14.5" y="-33.5" width="34.5" height="5.0" rx="1" fill="#fff" stroke="#000" stroke-width="2.0"/>
<line x1="15" y1="-31" x2="48.5" y2="-31" stroke="#000" stroke-width="1.0" />
<line x1="16" y1="-16.5" x2="47.5" y2="-16.5" stroke="#000" stroke-width="2.2" />
<line x1="16" y1="-14" x2="47.5" y2="-14" stroke="#000" stroke-width="1.0" />
<path d="M0,0 L21,0 L21,5 L40,5 L40,0 L67,0 L67,10 L70,12 L71,48 L0,48 Z" fill="#fff" stroke="#000" stroke-width="1.6" />
<rect x="0" y="1" width="4" height="46" fill="#111"/>
<line x1="0.5" y1="3" x2="3.5" y2="3" stroke="#fff" stroke-width="0.8" />
<line x1="0.5" y1="6" x2="3.5" y2="6" stroke="#fff" stroke-width="0.8" />
<line x1="0.5" y1="9" x2="3.5" y2="9" stroke="#fff" stroke-width="0.8" />
<line x1="0.5" y1="12" x2="3.5" y2="12" stroke="#fff" stroke-width="0.8" />
<line x1="0.5" y1="15" x2="3.5" y2="15" stroke="#fff" stroke-width="0.8" />
<line x1="0.5" y1="18" x2="3.5" y2="18" stroke="#fff" stroke-width="0.8" />
<line x1="0.5" y1="21" x2="3.5" y2="21" stroke="#fff" stroke-width="0.8" />
<line x1="0.5" y1="24" x2="3.5" y2="24" stroke="#fff" stroke-width="0.8" />
<line x1="0.5" y1="27" x2="3.5" y2="27" stroke="#fff" stroke-width="0.8" />
<line x1="0.5" y1="30" x2="3.5" y2="30" stroke="#fff" stroke-width="0.8" />
<line x1="0.5" y1="33" x2="3.5" y2="33" stroke="#fff" stroke-width="0.8" />
<line x1="0.5" y1="36" x2="3.5" y2="36" stroke="#fff" stroke-width="0.8" />
<line x1="0.5" y1="39" x2="3.5" y2="39" stroke="#fff" stroke-width="0.8" />
<line x1="0.5" y1="42" x2="3.5" y2="42" stroke="#fff" stroke-width="0.8" />
<line x1="0.5" y1="45" x2="3.5" y2="45" stroke="#fff" stroke-width="0.8" />
<line x1="6" y1="1" x2="6" y2="47" stroke="#000" stroke-width="1.0" />
<line x1="21" y1="0" x2="21" y2="48" stroke="#000" stroke-width="1.2" />
<line x1="19" y1="5" x2="19" y2="48" stroke="#000" stroke-width="0.8" />
<line x1="21" y1="5" x2="40" y2="5" stroke="#000" stroke-width="1.0" />
<line x1="40" y1="0" x2="40" y2="48" stroke="#000" stroke-width="1.2" />
<line x1="43" y1="0" x2="43" y2="10" stroke="#000" stroke-width="1.0" />
<line x1="58" y1="0" x2="58" y2="10" stroke="#000" stroke-width="1.0" />
<line x1="40" y1="10" x2="67" y2="10" stroke="#000" stroke-width="1.0" />
<line x1="0" y1="42" x2="21" y2="42" stroke="#000" stroke-width="1.0" />
<circle cx="31.4" cy="16.2" r="8.5" fill="#fff" stroke="#000" stroke-width="1.3"/>
<circle cx="31.4" cy="16.2" r="6.2" fill="#111" stroke="#000" stroke-width="1"/>
<circle cx="31.4" cy="16.2" r="2" fill="none" stroke="#777" stroke-width="0.8"/>
<circle cx="30.4" cy="32" r="13" fill="#fff" stroke="#000" stroke-width="1.2"/>
<circle cx="30.4" cy="32" r="10" fill="#fff" stroke="#000" stroke-width="1.4"/>
<circle cx="30.4" cy="32" r="7.4" fill="#111" stroke="#000" stroke-width="1"/>
<line x1="27" y1="32" x2="34" y2="32" stroke="#fff" stroke-width="1.2" />
<line x1="30.4" y1="28.6" x2="30.4" y2="35.4" stroke="#fff" stroke-width="1.2" />
<circle cx="65.3" cy="19.5" r="6" fill="#111" stroke="#000" stroke-width="1"/>
<circle cx="65.3" cy="19.5" r="1.2" fill="#fff" stroke="#000" stroke-width="0.5"/>
<g transform="translate(46,25) rotate(42)">
<rect x="0" y="-4.5" width="34" height="9.0" rx="4" fill="#fff" stroke="#000" stroke-width="1.4"/>
<line x1="20" y1="-4.5" x2="20" y2="4.5" stroke="#000" stroke-width="1.2" />
<line x1="26" y1="-4.5" x2="26" y2="4.5" stroke="#000" stroke-width="1.0" />
</g>
<rect x="41" y="53" width="15" height="15" rx="2" fill="#fff" stroke="#000" stroke-width="1.3"/>
<circle cx="48.1" cy="60.7" r="4.5" fill="none" stroke="#000" stroke-width="1.2"/>
<line x1="31" y1="-45" x2="31" y2="105" stroke="#222" stroke-width="1.0" stroke-dasharray="13,3.5,4,3.5"/>
</g>
<path d="M349,314 C375,314 386,322 398,345 C410,366 425,378.5 455,378.5 L579.5,378.5" fill="none" stroke="#000" stroke-width="7.6" />
<path d="M349,314 C375,314 386,322 398,345 C410,366 425,378.5 455,378.5 L579.5,378.5" fill="none" stroke="#fff" stroke-width="5.6" />
<path d="M349,314 C375,314 386,322 398,345 C410,366 425,378.5 455,378.5 L579.5,378.5" fill="none" stroke="#000" stroke-width="3.6" />
<path d="M349,314 C375,314 386,322 398,345 C410,366 425,378.5 455,378.5 L579.5,378.5" fill="none" stroke="#fff" stroke-width="1.6" />
<line x1="455" y1="374.5" x2="455" y2="382.5" stroke="#000" stroke-width="1.0" />
<rect x="579.2" y="368.7" width="10.199999999999932" height="19.80000000000001" rx="0" fill="#fff" stroke="#000" stroke-width="1.5"/>
<rect x="589.4" y="367.2" width="34.39999999999998" height="22.5" rx="0" fill="#fff" stroke="#000" stroke-width="1.6"/>
<line x1="182" y1="314" x2="330" y2="314" stroke="#222" stroke-width="1.0" stroke-dasharray="13,3.5,4,3.5"/>
<path d="M776,200 L776,110.75 L814.5,110.75 L814.5,200" fill="#fff" stroke="#000" stroke-width="1.6" />
<rect x="833" y="206" width="7" height="31" rx="0" fill="#fff" stroke="#000" stroke-width="1.4"/>
<line x1="840" y1="209" x2="873" y2="209" stroke="#000" stroke-width="1.2" />
<line x1="840" y1="234" x2="860" y2="234" stroke="#000" stroke-width="1.2" />
<rect x="754.4" y="212" width="3.6000000000000227" height="20.5" rx="0" fill="#fff" stroke="#000" stroke-width="1.3"/>
<circle cx="795.6" cy="221.6" r="37.4" fill="#fff" stroke="#000" stroke-width="1.8"/>
<circle cx="795.6" cy="221.6" r="35.4" fill="none" stroke="#000" stroke-width="1.2"/>
<line x1="795.6" y1="86" x2="795.6" y2="262" stroke="#222" stroke-width="1.2" stroke-dasharray="13,3.5,4,3.5"/>
<line x1="750" y1="221.6" x2="842" y2="221.6" stroke="#222" stroke-width="1.2" stroke-dasharray="13,3.5,4,3.5"/>
<rect x="890.3" y="107" width="10.0" height="22" rx="0" fill="#fff" stroke="#000" stroke-width="1.3"/>
<rect x="889.8" y="104" width="11.0" height="2.5" rx="0" fill="#000" stroke="#000" stroke-width="0.8"/>
<line x1="890.3" y1="108.3" x2="900.3" y2="108.3" stroke="#000" stroke-width="1.2" />
<line x1="893" y1="109" x2="893" y2="128" stroke="#000" stroke-width="0.8" />
<line x1="897.5" y1="109" x2="897.5" y2="128" stroke="#000" stroke-width="0.8" />
<rect x="842" y="150" width="106" height="7.5" rx="0" fill="#fff" stroke="#000" stroke-width="1.2"/>
<line x1="855" y1="132.5" x2="855" y2="156" stroke="#000" stroke-width="3.5" stroke-linecap="round"/>
<line x1="862.25" y1="132.5" x2="862.25" y2="156" stroke="#000" stroke-width="3.5" stroke-linecap="round"/>
<line x1="869.75" y1="132.5" x2="869.75" y2="156" stroke="#000" stroke-width="3.5" stroke-linecap="round"/>
<line x1="877" y1="132.5" x2="877" y2="156" stroke="#000" stroke-width="3.5" stroke-linecap="round"/>
<line x1="884" y1="132.5" x2="884" y2="156" stroke="#000" stroke-width="3.5" stroke-linecap="round"/>
<line x1="891" y1="132.5" x2="891" y2="156" stroke="#000" stroke-width="3.5" stroke-linecap="round"/>
<line x1="898.5" y1="132.5" x2="898.5" y2="156" stroke="#000" stroke-width="3.5" stroke-linecap="round"/>
<line x1="905.6" y1="132.5" x2="905.6" y2="156" stroke="#000" stroke-width="3.5" stroke-linecap="round"/>
<line x1="913" y1="132.5" x2="913" y2="156" stroke="#000" stroke-width="3.5" stroke-linecap="round"/>
<line x1="920" y1="132.5" x2="920" y2="156" stroke="#000" stroke-width="3.5" stroke-linecap="round"/>
<line x1="927.5" y1="132.5" x2="927.5" y2="156" stroke="#000" stroke-width="3.5" stroke-linecap="round"/>
<line x1="935" y1="132.5" x2="935" y2="156" stroke="#000" stroke-width="3.5" stroke-linecap="round"/>
<path d="M842,157.5 L842,137 Q842,131 846,131 Q849.4,131 849.4,137 L849.4,157.5" fill="#fff" stroke="#000" stroke-width="1.4" />
<path d="M948,157.5 L948,137 Q948,131 944,131 Q940.6,131 940.6,137 L940.6,157.5" fill="#fff" stroke="#000" stroke-width="1.4" />
<rect x="886.5" y="128.5" width="17.5" height="3.0" rx="0" fill="#fff" stroke="#000" stroke-width="1.2"/>
<line x1="888" y1="132" x2="888" y2="156" stroke="#000" stroke-width="0.9" />
<line x1="902" y1="132" x2="902" y2="156" stroke="#000" stroke-width="0.9" />
<rect x="840.6" y="157.5" width="109.39999999999998" height="5.0" rx="1.5" fill="#fff" stroke="#000" stroke-width="1.6"/>
<rect x="840.6" y="164.5" width="109.39999999999998" height="5.0" rx="1.5" fill="#fff" stroke="#000" stroke-width="1.6"/>
<line x1="850" y1="157.5" x2="850" y2="169.5" stroke="#000" stroke-width="0.9" />
<line x1="940" y1="157.5" x2="940" y2="169.5" stroke="#000" stroke-width="0.9" />
<line x1="841" y1="171" x2="949" y2="171" stroke="#444" stroke-width="1.5" />
<line x1="842.5" y1="173.75" x2="947.5" y2="173.75" stroke="#000" stroke-width="3.3" stroke-linecap="round"/>
<line x1="842.5" y1="180.6" x2="947.5" y2="180.6" stroke="#000" stroke-width="3.3" stroke-linecap="round"/>
<line x1="842.5" y1="187.5" x2="947.5" y2="187.5" stroke="#000" stroke-width="3.3" stroke-linecap="round"/>
<line x1="842.5" y1="194.4" x2="947.5" y2="194.4" stroke="#000" stroke-width="3.3" stroke-linecap="round"/>
<line x1="842.5" y1="201.25" x2="947.5" y2="201.25" stroke="#000" stroke-width="3.3" stroke-linecap="round"/>
<line x1="842.5" y1="208.1" x2="947.5" y2="208.1" stroke="#000" stroke-width="3.3" stroke-linecap="round"/>
<line x1="853" y1="214.9" x2="875" y2="214.9" stroke="#000" stroke-width="3.2" stroke-linecap="round"/>
<line x1="856" y1="221.9" x2="875" y2="221.9" stroke="#000" stroke-width="3.2" stroke-linecap="round"/>
<line x1="851" y1="172" x2="851" y2="212" stroke="#000" stroke-width="1.0" />
<line x1="862" y1="172" x2="862" y2="212" stroke="#000" stroke-width="1.0" />
<line x1="870" y1="172" x2="870" y2="212" stroke="#000" stroke-width="1.0" />
<line x1="920" y1="172" x2="920" y2="212" stroke="#000" stroke-width="1.0" />
<line x1="928" y1="172" x2="928" y2="212" stroke="#000" stroke-width="1.0" />
<line x1="939" y1="172" x2="939" y2="212" stroke="#000" stroke-width="1.0" />
<rect x="874.4" y="204.4" width="60.0" height="13.599999999999994" rx="4" fill="#fff" stroke="#000" stroke-width="1.4"/>
<circle cx="877.5" cy="210.5" r="2.2" fill="none" stroke="#000" stroke-width="1.0"/>
<circle cx="929.4" cy="211.5" r="2.2" fill="none" stroke="#000" stroke-width="1.0"/>
<rect x="880" y="181.25" width="30.600000000000023" height="36.25" rx="0" fill="#fff" stroke="#000" stroke-width="1.5"/>
<ellipse cx="895.3" cy="181.25" rx="15.3" ry="5" fill="#fff" stroke="#000" stroke-width="1.5"/>
<ellipse cx="895.3" cy="181.8" rx="12" ry="3.6" fill="none" stroke="#000" stroke-width="1"/>
<path d="M880,190 Q895,195 910.6,190" fill="none" stroke="#000" stroke-width="1.2" />
<path d="M880,197 Q895,202 910.6,197" fill="none" stroke="#000" stroke-width="1.0" />
<rect x="933" y="213" width="12" height="49" rx="0" fill="#fff" stroke="#000" stroke-width="1.2"/>
<rect x="935" y="224" width="11" height="16" rx="0" fill="#fff" stroke="#000" stroke-width="1.0"/>
<rect x="945" y="222" width="7" height="8" rx="0" fill="#fff" stroke="#000" stroke-width="1.0"/>
<rect x="947.5" y="233" width="26.899999999999977" height="15" rx="1" fill="#fff" stroke="#000" stroke-width="1.6"/>
<rect x="847.3" y="226.5" width="3.5" height="43.5" rx="0" fill="#fff" stroke="#000" stroke-width="1.2"/>
<rect x="850.8" y="227" width="9.700000000000045" height="26.5" rx="0" fill="#fff" stroke="#000" stroke-width="1.4"/>
<rect x="860.5" y="228" width="6.5" height="27" rx="0" fill="#fff" stroke="#000" stroke-width="1.3"/>
<rect x="867" y="225" width="6" height="35" rx="0" fill="#fff" stroke="#000" stroke-width="1.3"/>
<line x1="863" y1="228" x2="863" y2="255" stroke="#000" stroke-width="0.9" />
<line x1="870" y1="225" x2="870" y2="260" stroke="#000" stroke-width="0.9" />
<line x1="855.3" y1="253.5" x2="855.3" y2="300" stroke="#000" stroke-width="1.0" />
<line x1="857.4" y1="253.5" x2="857.4" y2="300" stroke="#000" stroke-width="1.0" />
<line x1="847.3" y1="236" x2="850.8" y2="236" stroke="#000" stroke-width="0.8" />
<line x1="847.3" y1="246" x2="850.8" y2="246" stroke="#000" stroke-width="0.8" />
<line x1="847.3" y1="256" x2="850.8" y2="256" stroke="#000" stroke-width="0.8" />
<line x1="847.3" y1="262" x2="850.8" y2="262" stroke="#000" stroke-width="0.8" />
<rect x="873" y="217.5" width="60.75" height="47.5" rx="4" fill="#fff" stroke="#000" stroke-width="1.8"/>
<rect x="876" y="220" width="54.75" height="42" rx="3" fill="none" stroke="#000" stroke-width="0.9"/>
<circle cx="882.5" cy="227" r="4.5" fill="#fff" stroke="#000" stroke-width="1.3"/>
<line x1="879.9" y1="227" x2="885.1" y2="227" stroke="#000" stroke-width="1.0" />
<line x1="882.5" y1="224.4" x2="882.5" y2="229.6" stroke="#000" stroke-width="1.0" />
<circle cx="929.4" cy="227" r="4.5" fill="#fff" stroke="#000" stroke-width="1.3"/>
<line x1="926.8" y1="227" x2="932.0" y2="227" stroke="#000" stroke-width="1.0" />
<line x1="929.4" y1="224.4" x2="929.4" y2="229.6" stroke="#000" stroke-width="1.0" />
<circle cx="882.5" cy="260" r="4.5" fill="#fff" stroke="#000" stroke-width="1.3"/>
<line x1="879.9" y1="260" x2="885.1" y2="260" stroke="#000" stroke-width="1.0" />
<line x1="882.5" y1="257.4" x2="882.5" y2="262.6" stroke="#000" stroke-width="1.0" />
<circle cx="929.4" cy="260" r="4.5" fill="#fff" stroke="#000" stroke-width="1.3"/>
<line x1="926.8" y1="260" x2="932.0" y2="260" stroke="#000" stroke-width="1.0" />
<line x1="929.4" y1="257.4" x2="929.4" y2="262.6" stroke="#000" stroke-width="1.0" />
<circle cx="902.5" cy="243.75" r="20.5" fill="#fff" stroke="#000" stroke-width="1.6"/>
<circle cx="902.5" cy="243.75" r="18.5" fill="none" stroke="#000" stroke-width="1.2"/>
<circle cx="902.5" cy="243.75" r="14.5" fill="none" stroke="#000" stroke-width="1.4"/>
<circle cx="920.5" cy="245.5" r="1.5" fill="#fff" stroke="#000" stroke-width="1.0"/>
<path d="M853.75,314 L853.75,347 Q853.75,356 863,356 L926,356 Q935.6,356 935.6,347 L935.6,314" fill="#fff" stroke="#000" stroke-width="1.4" />
<line x1="858" y1="330" x2="858" y2="350" stroke="#000" stroke-width="1.0" />
<line x1="931" y1="330" x2="931" y2="350" stroke="#000" stroke-width="1.0" />
<path d="M830,314 L830,304 Q830,300.6 833.5,300.6 L852.5,300.6 L852.5,314" fill="#fff" stroke="#000" stroke-width="1.4" />
<path d="M960.6,314 L960.6,304 Q960.6,300.6 957,300.6 L937.5,300.6 L937.5,314" fill="#fff" stroke="#000" stroke-width="1.4" />
<line x1="836" y1="300.6" x2="836" y2="314" stroke="#000" stroke-width="1.0" />
<line x1="954" y1="300.6" x2="954" y2="314" stroke="#000" stroke-width="1.0" />
<circle cx="895" cy="314" r="44.6" fill="#fff" stroke="#000" stroke-width="2.0"/>
<circle cx="895" cy="314" r="41.6" fill="none" stroke="#000" stroke-width="1.2"/>
<path d="M860,285 Q895,263 930,285" fill="none" stroke="#000" stroke-width="1.0" />
<circle cx="895" cy="314" r="35.2" fill="none" stroke="#000" stroke-width="1.2"/>
<circle cx="895" cy="314" r="33.4" fill="none" stroke="#000" stroke-width="2.6" stroke-dasharray="2.2,1.6"/>
<circle cx="895" cy="314" r="31.2" fill="#fff" stroke="#000" stroke-width="1.2"/>
<circle cx="895" cy="314" r="20.6" fill="none" stroke="#000" stroke-width="1.3"/>
<polygon points="895.00,296.30 910.33,305.15 910.33,322.85 895.00,331.70 879.67,322.85 879.67,305.15" fill="none" stroke="#000" stroke-width="1.4"/>
<circle cx="895" cy="314" r="14.5" fill="none" stroke="#000" stroke-width="1.0"/>
<circle cx="895" cy="314" r="8.4" fill="none" stroke="#000" stroke-width="2.6"/>
<circle cx="895" cy="314" r="5" fill="none" stroke="#000" stroke-width="1.0"/>
<circle cx="895" cy="314" r="2.4" fill="none" stroke="#000" stroke-width="1.0"/>
<rect x="872.5" y="264" width="45" height="14.5" fill="#fff"/>
<line x1="872.5" y1="265" x2="872.5" y2="281" stroke="#000" stroke-width="1.4" />
<line x1="917.5" y1="265" x2="917.5" y2="281" stroke="#000" stroke-width="1.4" />
<path d="M929,305.5 L936,305.5 Q943,305.5 943,313.5 Q943,321.5 936,321.5 L929,321.5 Z" fill="#fff" stroke="#000" stroke-width="1.3" />
<rect x="893" y="345" width="4" height="15" fill="#111"/>
<line x1="871" y1="356" x2="871" y2="362" stroke="#000" stroke-width="1" />
<line x1="919" y1="356" x2="919" y2="362" stroke="#000" stroke-width="1" />
<path d="M941,322 L998,380" fill="none" stroke="#000" stroke-width="3.6" />
<path d="M941,322 L998,380" fill="none" stroke="#fff" stroke-width="1.4" />
<rect x="993.3" y="367.5" width="9.200000000000045" height="22.0" rx="0" fill="#fff" stroke="#000" stroke-width="1.6"/>
<line x1="995" y1="370" x2="999" y2="382" stroke="#000" stroke-width="1.2" />
<line x1="895" y1="86" x2="895" y2="104" stroke="#222" stroke-width="1.0" stroke-dasharray="13,3.5,4,3.5"/>
<line x1="895" y1="129" x2="895" y2="372" stroke="#222" stroke-width="1.0" stroke-dasharray="13,3.5,4,3.5"/>
<line x1="812" y1="314" x2="978" y2="314" stroke="#000" stroke-width="1.0" />
<rect x="531" y="504.8" width="159" height="74.99999999999994" rx="0" fill="#fff" stroke="#000" stroke-width="1.6"/>
<rect x="528" y="507" width="3" height="71" rx="0" fill="#222" stroke="#000" stroke-width="1.2"/>
<rect x="690" y="507" width="3" height="71" rx="0" fill="#222" stroke="#000" stroke-width="1.2"/>
<path d="M538.7,505 Q538.7,502.3 542,502.3 L557,502.3 Q560,502.3 560,505 Q549,509 538.7,505" fill="#fff" stroke="#000" stroke-width="1.2" />
<path d="M607.3,505 Q607.3,502.3 610.5,502.3 L625.5,502.3 Q628.6,502.3 628.6,505 Q618,509 607.3,505" fill="#fff" stroke="#000" stroke-width="1.2" />
<circle cx="660.9" cy="542.6" r="19.1" fill="none" stroke="#000" stroke-width="2.6"/>
<line x1="518.5" y1="542.6" x2="702.3" y2="542.6" stroke="#222" stroke-width="1.2" stroke-dasharray="13,3.5,4,3.5"/>
<line x1="660.9" y1="518" x2="660.9" y2="568" stroke="#000" stroke-width="1.0" />
<path d="M538.7,580 L538.7,588 L628,588 L628,580" fill="#fff" stroke="#000" stroke-width="1.3" />
<path d="M542,588 Q583,577 624,588" fill="none" stroke="#000" stroke-width="1.0" />
<line x1="545" y1="580" x2="545" y2="588" stroke="#000" stroke-width="0.9" />
<line x1="555" y1="580" x2="555" y2="588" stroke="#000" stroke-width="0.9" />
<line x1="571" y1="580" x2="571" y2="588" stroke="#000" stroke-width="0.9" />
<line x1="595" y1="580" x2="595" y2="588" stroke="#000" stroke-width="0.9" />
<line x1="611" y1="580" x2="611" y2="588" stroke="#000" stroke-width="0.9" />
<line x1="621" y1="580" x2="621" y2="588" stroke="#000" stroke-width="0.9" />
<rect x="541" y="588" width="85" height="7" rx="0" fill="#fff" stroke="#000" stroke-width="1.0"/>
<rect x="637.5" y="597" width="3.75" height="90" rx="0" fill="#fff" stroke="#000" stroke-width="1.4"/>
<rect x="634" y="597" width="3.5" height="90" rx="0" fill="#fff" stroke="#000" stroke-width="1.0"/>
<rect x="641" y="602" width="8.700000000000045" height="14" rx="1" fill="#fff" stroke="#000" stroke-width="1.3"/>
<rect x="641" y="667.5" width="8.700000000000045" height="15.0" rx="1" fill="#fff" stroke="#000" stroke-width="1.3"/>
<path d="M543.75,690 L543.75,702 Q543.75,707.8 549.5,707.8 L563.3,707.8 Q569,707.8 569,702 L569,690" fill="#fff" stroke="#000" stroke-width="1.4" />
<path d="M598,690 L598,702 Q598,707.8 603.7,707.8 L617.7,707.8 Q623.4,707.8 623.4,702 L623.4,690" fill="#fff" stroke="#000" stroke-width="1.4" />
<clipPath id="hc"><rect x="531" y="588.5" width="106" height="105.5" rx="21"/></clipPath>
<rect x="530" y="587.5" width="108" height="107.5" rx="21.5" fill="#fff" stroke="#000" stroke-width="2.0"/>
<g clip-path="url(#hc)">
<line x1="530" y1="595" x2="638" y2="595" stroke="#000" stroke-width="3.1" />
<line x1="530" y1="602.2" x2="638" y2="602.2" stroke="#000" stroke-width="3.1" />
<line x1="530" y1="609.4000000000001" x2="638" y2="609.4000000000001" stroke="#000" stroke-width="3.1" />
<line x1="530" y1="616.6000000000001" x2="638" y2="616.6000000000001" stroke="#000" stroke-width="3.1" />
<line x1="530" y1="623.8000000000002" x2="638" y2="623.8000000000002" stroke="#000" stroke-width="3.1" />
<line x1="530" y1="631.0000000000002" x2="638" y2="631.0000000000002" stroke="#000" stroke-width="3.1" />
<line x1="530" y1="638.2000000000003" x2="638" y2="638.2000000000003" stroke="#000" stroke-width="3.1" />
<line x1="530" y1="645.4000000000003" x2="638" y2="645.4000000000003" stroke="#000" stroke-width="3.1" />
<line x1="530" y1="652.6000000000004" x2="638" y2="652.6000000000004" stroke="#000" stroke-width="3.1" />
<line x1="530" y1="659.8000000000004" x2="638" y2="659.8000000000004" stroke="#000" stroke-width="3.1" />
<line x1="530" y1="667.0000000000005" x2="638" y2="667.0000000000005" stroke="#000" stroke-width="3.1" />
<line x1="530" y1="674.2000000000005" x2="638" y2="674.2000000000005" stroke="#000" stroke-width="3.1" />
<line x1="530" y1="681.4000000000005" x2="638" y2="681.4000000000005" stroke="#000" stroke-width="3.1" />
<line x1="530" y1="688.6000000000006" x2="638" y2="688.6000000000006" stroke="#000" stroke-width="3.1" />
<line x1="546.6" y1="620.6" x2="583.3" y2="642.2" stroke="#fff" stroke-width="3.0" />
<line x1="620.6" y1="620.6" x2="583.3" y2="642.2" stroke="#fff" stroke-width="3.0" />
<line x1="546.6" y1="663.75" x2="583.3" y2="642.2" stroke="#fff" stroke-width="3.0" />
<line x1="620.6" y1="663.75" x2="583.3" y2="642.2" stroke="#fff" stroke-width="3.0" />
<line x1="583" y1="599" x2="583" y2="685" stroke="#fff" stroke-width="3.0" />
<line x1="546.6" y1="620.6" x2="583.3" y2="642.2" stroke="#000" stroke-width="0.8" />
<line x1="620.6" y1="620.6" x2="583.3" y2="642.2" stroke="#000" stroke-width="0.8" />
<line x1="546.6" y1="663.75" x2="583.3" y2="642.2" stroke="#000" stroke-width="0.8" />
<line x1="620.6" y1="663.75" x2="583.3" y2="642.2" stroke="#000" stroke-width="0.8" />
<line x1="533" y1="642.2" x2="545" y2="642.2" stroke="#fff" stroke-width="3" />
<line x1="622" y1="642.2" x2="636" y2="642.2" stroke="#fff" stroke-width="3" />
</g>
<rect x="530" y="587.5" width="108" height="107.5" rx="21.5" fill="none" stroke="#000" stroke-width="2.2"/>
<circle cx="583" cy="599" r="8" fill="#111" stroke="#000" stroke-width="1"/>
<circle cx="583" cy="599" r="5.6" fill="#fff" stroke="#000" stroke-width="1.2"/>
<polygon points="586.60,599.00 584.80,602.12 581.20,602.12 579.40,599.00 581.20,595.88 584.80,595.88" fill="none" stroke="#000" stroke-width="0.9"/>
<circle cx="583" cy="685.3" r="8" fill="#111" stroke="#000" stroke-width="1"/>
<circle cx="583" cy="685.3" r="5.6" fill="#fff" stroke="#000" stroke-width="1.2"/>
<polygon points="586.60,685.30 584.80,688.42 581.20,688.42 579.40,685.30 581.20,682.18 584.80,682.18" fill="none" stroke="#000" stroke-width="0.9"/>
<circle cx="546.6" cy="620.6" r="8" fill="#111" stroke="#000" stroke-width="1"/>
<circle cx="546.6" cy="620.6" r="5.6" fill="#fff" stroke="#000" stroke-width="1.2"/>
<polygon points="550.20,620.60 548.40,623.72 544.80,623.72 543.00,620.60 544.80,617.48 548.40,617.48" fill="none" stroke="#000" stroke-width="0.9"/>
<circle cx="620.6" cy="620.6" r="8" fill="#111" stroke="#000" stroke-width="1"/>
<circle cx="620.6" cy="620.6" r="5.6" fill="#fff" stroke="#000" stroke-width="1.2"/>
<polygon points="624.20,620.60 622.40,623.72 618.80,623.72 617.00,620.60 618.80,617.48 622.40,617.48" fill="none" stroke="#000" stroke-width="0.9"/>
<circle cx="546.6" cy="663.75" r="8" fill="#111" stroke="#000" stroke-width="1"/>
<circle cx="546.6" cy="663.75" r="5.6" fill="#fff" stroke="#000" stroke-width="1.2"/>
<polygon points="550.20,663.75 548.40,666.87 544.80,666.87 543.00,663.75 544.80,660.63 548.40,660.63" fill="none" stroke="#000" stroke-width="0.9"/>
<circle cx="620.6" cy="663.75" r="8" fill="#111" stroke="#000" stroke-width="1"/>
<circle cx="620.6" cy="663.75" r="5.6" fill="#fff" stroke="#000" stroke-width="1.2"/>
<polygon points="624.20,663.75 622.40,666.87 618.80,666.87 617.00,663.75 618.80,660.63 622.40,660.63" fill="none" stroke="#000" stroke-width="0.9"/>
<circle cx="583.3" cy="642.2" r="16" fill="#333" stroke="#000" stroke-width="1"/>
<circle cx="583.3" cy="642.2" r="13.6" fill="#fff" stroke="#000" stroke-width="1.6"/>
<circle cx="583.3" cy="642.2" r="11.5" fill="none" stroke="#000" stroke-width="0.8"/>
<circle cx="583.3" cy="642.2" r="8" fill="#fff" stroke="#000" stroke-width="3.2"/>
<circle cx="583.3" cy="642.2" r="3.8" fill="#fff" stroke="#000" stroke-width="1.2"/>
<line x1="579" y1="642.2" x2="587.5" y2="642.2" stroke="#000" stroke-width="1.0" />
<line x1="583.3" y1="638" x2="583.3" y2="646.5" stroke="#000" stroke-width="1.0" />
<circle cx="556.9" cy="698.4" r="4" fill="#fff" stroke="#000" stroke-width="1.3"/>
<circle cx="610.3" cy="698.4" r="4" fill="#fff" stroke="#000" stroke-width="1.3"/>
<line x1="548" y1="698.4" x2="566" y2="698.4" stroke="#000" stroke-width="0.8" />
<line x1="601" y1="698.4" x2="620" y2="698.4" stroke="#000" stroke-width="0.8" />
<line x1="583.3" y1="473.6" x2="583.3" y2="706" stroke="#222" stroke-width="1.0" stroke-dasharray="13,3.5,4,3.5"/>
<line x1="556.9" y1="690" x2="556.9" y2="712" stroke="#000" stroke-width="0.8" />
<line x1="610.3" y1="690" x2="610.3" y2="712" stroke="#000" stroke-width="0.8" />
<line x1="550" y1="642.2" x2="652.5" y2="642.2" stroke="#000" stroke-width="1.0" />
<rect x="332.5" y="634" width="15.899999999999977" height="17.5" rx="2" fill="#111" stroke="#000" stroke-width="0.8"/>
<line x1="334" y1="634.5" x2="334" y2="651" stroke="#555" stroke-width="0.5" />
<line x1="336" y1="634.5" x2="336" y2="651" stroke="#555" stroke-width="0.5" />
<line x1="338" y1="634.5" x2="338" y2="651" stroke="#555" stroke-width="0.5" />
<line x1="340" y1="634.5" x2="340" y2="651" stroke="#555" stroke-width="0.5" />
<line x1="342" y1="634.5" x2="342" y2="651" stroke="#555" stroke-width="0.5" />
<line x1="344" y1="634.5" x2="344" y2="651" stroke="#555" stroke-width="0.5" />
<line x1="346" y1="634.5" x2="346" y2="651" stroke="#555" stroke-width="0.5" />
<rect x="348.4" y="627.3" width="12.300000000000011" height="30.700000000000045" rx="2" fill="#fff" stroke="#000" stroke-width="1.4"/>
<line x1="348.5" y1="634" x2="360.5" y2="634" stroke="#000" stroke-width="1.0" />
<line x1="348.5" y1="651.5" x2="360.5" y2="651.5" stroke="#000" stroke-width="1.0" />
<polygon points="360.7,627 364.5,610.3 369,610.3 369,675.3 364.5,675.3 360.7,658" fill="#fff" stroke="#000" stroke-width="1.5"/>
<line x1="364.5" y1="611" x2="364.5" y2="675" stroke="#000" stroke-width="1.0" />
<rect x="369" y="634" width="21.600000000000023" height="17.5" rx="0" fill="#111" stroke="#000" stroke-width="0.8"/>
<line x1="371" y1="634.5" x2="371" y2="651" stroke="#555" stroke-width="0.5" />
<line x1="373" y1="634.5" x2="373" y2="651" stroke="#555" stroke-width="0.5" />
<line x1="375" y1="634.5" x2="375" y2="651" stroke="#555" stroke-width="0.5" />
<line x1="377" y1="634.5" x2="377" y2="651" stroke="#555" stroke-width="0.5" />
<line x1="379" y1="634.5" x2="379" y2="651" stroke="#555" stroke-width="0.5" />
<line x1="381" y1="634.5" x2="381" y2="651" stroke="#555" stroke-width="0.5" />
<line x1="383" y1="634.5" x2="383" y2="651" stroke="#555" stroke-width="0.5" />
<line x1="385" y1="634.5" x2="385" y2="651" stroke="#555" stroke-width="0.5" />
<line x1="387" y1="634.5" x2="387" y2="651" stroke="#555" stroke-width="0.5" />
<line x1="389" y1="634.5" x2="389" y2="651" stroke="#555" stroke-width="0.5" />
<rect x="390.6" y="633.7" width="16.399999999999977" height="17.799999999999955" rx="0" fill="#fff" stroke="#000" stroke-width="1.3"/>
<rect x="407" y="608.4" width="8.300000000000011" height="68.60000000000002" rx="1.5" fill="#fff" stroke="#000" stroke-width="1.5"/>
<rect x="407.6" y="610" width="2.6" height="65.5" fill="#222"/>
<line x1="407.6" y1="611" x2="410.2" y2="611" stroke="#fff" stroke-width="1.0" />
<line x1="407.6" y1="614" x2="410.2" y2="614" stroke="#fff" stroke-width="1.0" />
<line x1="407.6" y1="617" x2="410.2" y2="617" stroke="#fff" stroke-width="1.0" />
<line x1="407.6" y1="620" x2="410.2" y2="620" stroke="#fff" stroke-width="1.0" />
<line x1="407.6" y1="623" x2="410.2" y2="623" stroke="#fff" stroke-width="1.0" />
<line x1="407.6" y1="626" x2="410.2" y2="626" stroke="#fff" stroke-width="1.0" />
<line x1="407.6" y1="629" x2="410.2" y2="629" stroke="#fff" stroke-width="1.0" />
<line x1="407.6" y1="632" x2="410.2" y2="632" stroke="#fff" stroke-width="1.0" />
<line x1="407.6" y1="635" x2="410.2" y2="635" stroke="#fff" stroke-width="1.0" />
<line x1="407.6" y1="638" x2="410.2" y2="638" stroke="#fff" stroke-width="1.0" />
<line x1="407.6" y1="641" x2="410.2" y2="641" stroke="#fff" stroke-width="1.0" />
<line x1="407.6" y1="644" x2="410.2" y2="644" stroke="#fff" stroke-width="1.0" />
<line x1="407.6" y1="647" x2="410.2" y2="647" stroke="#fff" stroke-width="1.0" />
<line x1="407.6" y1="650" x2="410.2" y2="650" stroke="#fff" stroke-width="1.0" />
<line x1="407.6" y1="653" x2="410.2" y2="653" stroke="#fff" stroke-width="1.0" />
<line x1="407.6" y1="656" x2="410.2" y2="656" stroke="#fff" stroke-width="1.0" />
<line x1="407.6" y1="659" x2="410.2" y2="659" stroke="#fff" stroke-width="1.0" />
<line x1="407.6" y1="662" x2="410.2" y2="662" stroke="#fff" stroke-width="1.0" />
<line x1="407.6" y1="665" x2="410.2" y2="665" stroke="#fff" stroke-width="1.0" />
<line x1="407.6" y1="668" x2="410.2" y2="668" stroke="#fff" stroke-width="1.0" />
<line x1="407.6" y1="671" x2="410.2" y2="671" stroke="#fff" stroke-width="1.0" />
<line x1="407.6" y1="674" x2="410.2" y2="674" stroke="#fff" stroke-width="1.0" />
<rect x="415.3" y="619.4" width="11.949999999999989" height="46.80000000000007" rx="0" fill="#fff" stroke="#000" stroke-width="1.3"/>
<rect x="429" y="610.3" width="18" height="66.70000000000005" rx="3" fill="#fff" stroke="#000" stroke-width="1.5"/>
<ellipse cx="435.9" cy="667" rx="4" ry="2.6" fill="none" stroke="#000" stroke-width="1"/>
<polygon points="429,678 467.3,678 467.3,689.4 432,686" fill="#fff" stroke="#000" stroke-width="1.3"/>
<rect x="449.3" y="610.6" width="20.19999999999999" height="72.10000000000002" rx="2" fill="#fff" stroke="#000" stroke-width="1.4"/>
<rect x="462.8" y="594.9" width="39.39999999999998" height="3.3999999999999773" rx="0" fill="#fff" stroke="#000" stroke-width="1.2"/>
<rect x="474" y="598.3" width="28.19999999999999" height="15.700000000000045" rx="0" fill="#fff" stroke="#000" stroke-width="1.3"/>
<ellipse cx="496" cy="603" rx="2.2" ry="3" fill="#111"/>
<line x1="502" y1="608.4" x2="532.5" y2="601.6" stroke="#000" stroke-width="1.0" />
<line x1="502" y1="611" x2="532.5" y2="604" stroke="#000" stroke-width="1.0" />
<rect x="453.8" y="619.6" width="39.19999999999999" height="63.10000000000002" rx="3" fill="#fff" stroke="#000" stroke-width="1.4"/>
<rect x="470" y="612" width="22" height="10" rx="0" fill="#fff" stroke="#000" stroke-width="1.2"/>
<circle cx="481" cy="642" r="11.5" fill="#fff" stroke="#000" stroke-width="1.3"/>
<circle cx="481" cy="642" r="9.5" fill="none" stroke="#000" stroke-width="1.0"/>
<circle cx="468" cy="642.2" r="14" fill="#fff" stroke="#000" stroke-width="1.6"/>
<circle cx="468" cy="642.2" r="12.2" fill="none" stroke="#000" stroke-width="1.0"/>
<circle cx="468" cy="642.2" r="10.5" fill="none" stroke="#000" stroke-width="1.3"/>
<rect x="456" y="666" width="37" height="16.700000000000045" rx="0" fill="none" stroke="#000" stroke-width="1.0"/>
<rect x="477.4" y="689.4" width="16.900000000000034" height="14.600000000000023" rx="0" fill="#fff" stroke="#000" stroke-width="1.3"/>
<rect x="479.6" y="704" width="14.699999999999989" height="17" rx="0" fill="#fff" stroke="#000" stroke-width="1.3"/>
<line x1="480.4" y1="704" x2="480.4" y2="722" stroke="#000" stroke-width="1.0" />
<line x1="496" y1="700" x2="496" y2="722" stroke="#000" stroke-width="1.0" />
<rect x="491" y="620" width="14.25" height="61.5" rx="3" fill="#fff" stroke="#000" stroke-width="1.4"/>
<rect x="505.25" y="618" width="20.75" height="64" rx="2" fill="#fff" stroke="#000" stroke-width="1.4"/>
<line x1="526" y1="606" x2="526" y2="700" stroke="#000" stroke-width="1.0" />
<line x1="528.5" y1="604" x2="528.5" y2="700" stroke="#000" stroke-width="1.0" />
<ellipse cx="508.3" cy="625.5" rx="2.4" ry="5" fill="#222" stroke="#000" stroke-width="0.8"/>
<ellipse cx="519.5" cy="626" rx="2.4" ry="5.5" fill="#444" stroke="#000" stroke-width="0.8"/>
<ellipse cx="507.8" cy="675" rx="2.6" ry="4" fill="#222"/>
<rect x="514.25" y="636.5" width="11.25" height="31.5" rx="0" fill="#fff" stroke="#000" stroke-width="1.2"/>
<line x1="516.5" y1="637" x2="516.5" y2="667" stroke="#000" stroke-width="0.9" />
<line x1="520" y1="639" x2="524" y2="640" stroke="#000" stroke-width="0.9" />
<line x1="520" y1="641" x2="524" y2="642" stroke="#000" stroke-width="0.9" />
<line x1="520" y1="643" x2="524" y2="644" stroke="#000" stroke-width="0.9" />
<line x1="520" y1="645" x2="524" y2="646" stroke="#000" stroke-width="0.9" />
<line x1="520" y1="647" x2="524" y2="648" stroke="#000" stroke-width="0.9" />
<line x1="520" y1="649" x2="524" y2="650" stroke="#000" stroke-width="0.9" />
<line x1="520" y1="651" x2="524" y2="652" stroke="#000" stroke-width="0.9" />
<line x1="520" y1="653" x2="524" y2="654" stroke="#000" stroke-width="0.9" />
<line x1="520" y1="655" x2="524" y2="656" stroke="#000" stroke-width="0.9" />
<line x1="520" y1="657" x2="524" y2="658" stroke="#000" stroke-width="0.9" />
<line x1="520" y1="659" x2="524" y2="660" stroke="#000" stroke-width="0.9" />
<line x1="520" y1="661" x2="524" y2="662" stroke="#000" stroke-width="0.9" />
<line x1="520" y1="663" x2="524" y2="664" stroke="#000" stroke-width="0.9" />
<line x1="520" y1="665" x2="524" y2="666" stroke="#000" stroke-width="0.9" />
<path d="M509,668 L509,690 Q509,702 521,702 L530,702 L530,694 L521,694 Q517,694 517,690 L517,668" fill="#fff" stroke="#000" stroke-width="1.3" />
<rect x="512" y="668" width="11" height="16" rx="0" fill="#fff" stroke="#000" stroke-width="1.2"/>
<path d="M519,689 C535,700 545,720 560,733 C570,741 585,745 600,745.5 L724.8,745.5" fill="none" stroke="#000" stroke-width="4.4" />
<path d="M519,689 C535,700 545,720 560,733 C570,741 585,745 600,745.5 L724.8,745.5" fill="none" stroke="#fff" stroke-width="2.0" />
<rect x="724.8" y="742.4" width="9.700000000000045" height="6.600000000000023" rx="0" fill="#fff" stroke="#000" stroke-width="1.3"/>
<rect x="734.5" y="741.3" width="33.5" height="9.100000000000023" rx="0" fill="#fff" stroke="#000" stroke-width="1.5"/>
<line x1="325" y1="642.7" x2="530" y2="642.7" stroke="#222" stroke-width="1.0" stroke-dasharray="13,3.5,4,3.5"/>
</svg></body></html>
